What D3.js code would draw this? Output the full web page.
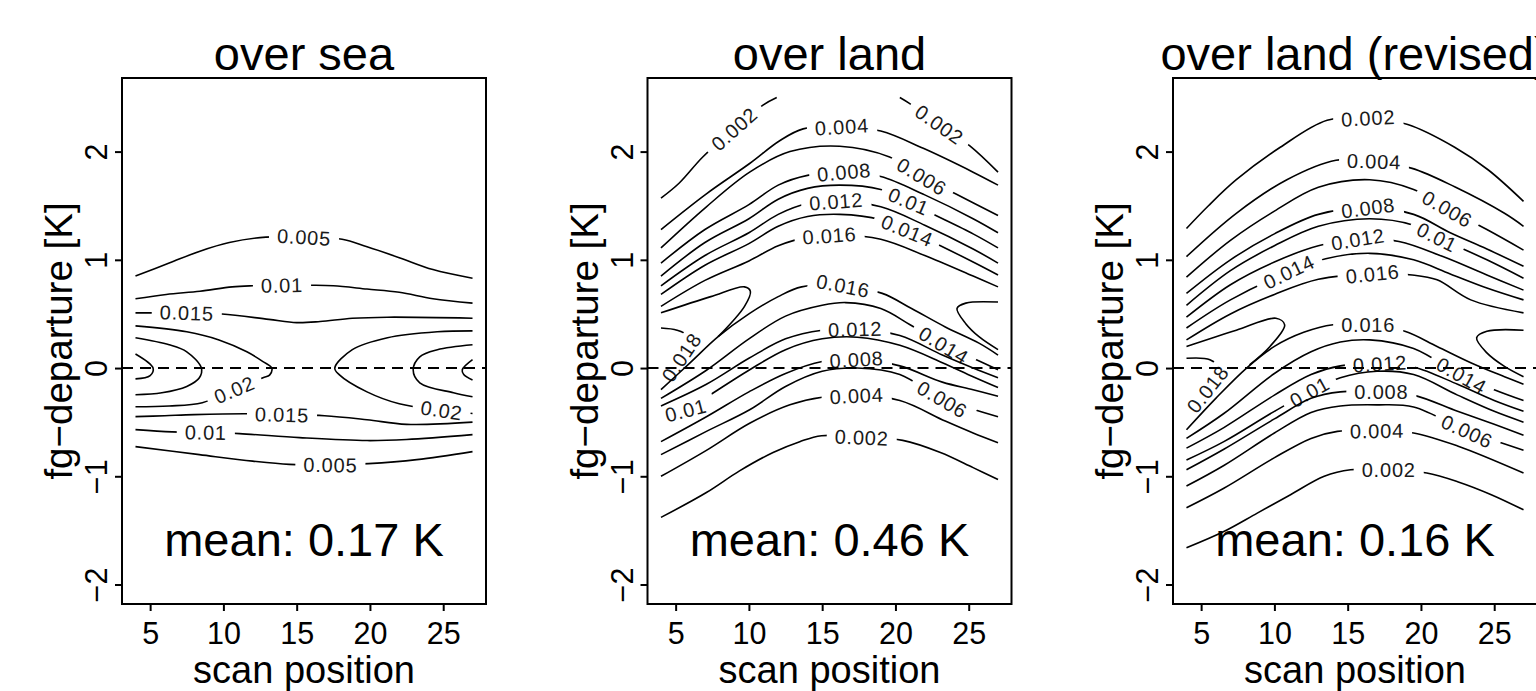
<!DOCTYPE html>
<html>
<head>
<meta charset="utf-8">
<script src="https://cdn.jsdelivr.net/npm/d3@7"></script>
<style>
    body { margin: 0; background: #fff; }
    text { font-family: "Liberation Sans", Arial, Helvetica, sans-serif; fill: #000; }
</style>
</head>
<body>
<svg id="chart" width="1536" height="691"></svg>
<script>
// axis ticks and panel texts
const xTicks = [5, 10, 15, 20, 25];
const yTicks = [-2, -1, 0, 1, 2];
const panelTitles = ["over sea", "over land", "over land (revised)"];
const panelMeans = ["mean: 0.17 K", "mean: 0.46 K", "mean: 0.16 K"];

// contour lines: label text, label spot, points [scan position, fg-departure]
const seaLines = [
    {lab: "0.005", at: [15.5, 1.20], pts: [[4,0.85],[6.3,0.97],[8.4,1.08],[10.4,1.16],[12.9,1.21],[15.5,1.21],[18.1,1.19],[19.8,1.12],[22.0,1.02],[24.3,0.91],[27,0.83]]},
    {lab: "0.01", at: [14.0, 0.755], pts: [[4,0.64],[6.1,0.68],[8.4,0.71],[10.6,0.75],[12,0.76],[14,0.765],[16,0.765],[17.5,0.76],[19.8,0.73],[22,0.70],[24.3,0.64],[27,0.60]]},
    {lab: "0.015", at: [7.5, 0.505], pts: [[4,0.51],[6,0.51],[7.5,0.51],[9.9,0.50],[13.1,0.45],[15,0.42],[16.6,0.43],[18.8,0.46],[21.2,0.47],[27,0.46]]},
    {lab: "0.02", at: [10.75, -0.20], pts: [[4,0.39],[7.5,0.335],[9.7,0.26],[11.6,0.15],[12.7,0.06],[13.3,0.0],[13.15,-0.065],[12.7,-0.09],[10.75,-0.20],[8.56,-0.32],[6.3,-0.35],[4,-0.357]]},
    {lab: null, pts: [[4,0.28],[6.3,0.215],[7.5,0.15],[8.5,0.0],[8.36,-0.09],[7.5,-0.17],[5.8,-0.228],[4,-0.246]]},
    {lab: null, pts: [[4,0.13],[5.2,0.0],[5.0,-0.07],[4,-0.10]]},
    {lab: "0.02", at: [24.9, -0.38], pts: [[27,0.344],[24.6,0.335],[21.2,0.28],[18.8,0.17],[17.6,0.0],[17.9,-0.06],[19.8,-0.22],[22.0,-0.33],[24.9,-0.39],[27,-0.42]]},
    {lab: null, pts: [[27,0.215],[24.6,0.169],[23.4,0.104],[22.95,-0.016],[23.4,-0.136],[25.7,-0.228],[27,-0.265]]},
    {lab: null, pts: [[27,0.077],[26.3,-0.016],[26.4,-0.06],[27,-0.11]]},
    {lab: "0.015", at: [14.0, -0.43], pts: [[4,-0.449],[6,-0.44],[8,-0.43],[11.6,-0.422],[14,-0.43],[16.9,-0.44],[19.8,-0.477],[22.5,-0.52],[27,-0.50]]},
    {lab: "0.01", at: [8.8, -0.595], pts: [[4,-0.569],[6.5,-0.59],[8.8,-0.595],[11.1,-0.606],[15.2,-0.643],[19.8,-0.67],[22.5,-0.66],[27,-0.615]]},
    {lab: "0.005", at: [17.3, -0.895], pts: [[4,-0.726],[8.36,-0.80],[12,-0.86],[14.5,-0.89],[17.3,-0.895],[19.9,-0.883],[23.2,-0.846],[27,-0.772]]}
];

const landLines = [
    {lab: "0.002", at: [9.0, 2.21], pts: [[4,1.57],[5.25,1.71],[6.85,1.95],[9.0,2.21],[10.96,2.43],[11.9,2.5]]},
    {lab: "0.002", at: [23.0, 2.25], pts: [[20.3,2.5],[20.9,2.45],[23.0,2.25],[25.1,2.05],[27,1.81]]},
    {lab: "0.004", at: [16.35, 2.23], pts: [[4,1.28],[7.1,1.61],[10.05,1.89],[12.1,2.1],[13.7,2.21],[16.35,2.23],[19.0,2.19],[21.9,2.03],[25.3,1.81],[27,1.69]]},
    {lab: "0.006", at: [21.8, 1.77], pts: [[4,1.11],[7.1,1.49],[10.05,1.81],[12.8,2.0],[16.2,2.05],[19.6,1.95],[21.8,1.77],[24.1,1.61],[27,1.41]]},
    {lab: "0.008", at: [16.5, 1.81], pts: [[4,0.97],[7,1.28],[10,1.51],[12,1.69],[14,1.78],[16.5,1.81],[19,1.77],[22,1.6],[25.3,1.38],[27,1.25]]},
    {lab: "0.01", at: [20.9, 1.54], pts: [[4,0.85],[7,1.16],[10,1.38],[12,1.56],[14,1.66],[16.2,1.69],[19,1.65],[20.9,1.54],[22,1.46],[25.3,1.24],[27,1.11]]},
    {lab: "0.012", at: [15.95, 1.54], pts: [[4,0.76],[7,1.04],[10,1.25],[12,1.42],[14,1.52],[16,1.54],[19,1.49],[22,1.32],[25.3,1.10],[27,0.97]]},
    {lab: "0.014", at: [20.8, 1.27], pts: [[4,0.68],[7,0.95],[10,1.15],[12,1.31],[14,1.40],[16.2,1.42],[19,1.37],[20.8,1.27],[22,1.20],[25.3,0.98],[27,0.86]]},
    {lab: "0.016", at: [15.5, 1.22], pts: [[4,0.57],[7,0.81],[10,0.99],[12,1.13],[14,1.21],[16.2,1.23],[19,1.19],[22,1.04],[25.3,0.85],[27,0.75]]},
    {lab: null, pts: [[4,0.51],[7.4,0.66],[9.7,0.75],[10.1,0.71],[9.7,0.57],[7.9,0.29]]},
    {lab: "0.018", at: [5.4, 0.1], pts: [[4,0.37],[5.1,0.35],[5.8,0.30],[5.9,0.2],[5.4,0.1],[4.7,0.02],[4,-0.06]]},
    {lab: null, pts: [[27,0.61],[24.8,0.60],[24.2,0.55],[24.8,0.41],[25.7,0.29],[27,0.17]]},
    {lab: "0.016", at: [16.4, 0.74], pts: [[4,-0.2],[6,0.05],[7.9,0.29],[10,0.5],[12,0.66],[13.6,0.75],[16.4,0.76],[19.1,0.69],[21.1,0.55],[23.4,0.38],[25.7,0.23],[27,0.12]]},
    {lab: "0.014", at: [23.3, 0.21], pts: [[4,-0.28],[7.1,-0.02],[10,0.27],[12.5,0.48],[15,0.58],[16.6,0.605],[19,0.55],[21,0.40],[23.3,0.21],[25.3,0.09],[27,-0.015]]},
    {lab: "0.012", at: [17.25, 0.36], pts: [[4,-0.35],[7.1,-0.15],[10,0.09],[12.5,0.27],[15,0.35],[17.4,0.36],[20.3,0.3],[23.2,0.12],[25.3,0.0],[27,-0.09]]},
    {lab: "0.01", at: [5.7, -0.39], pts: [[4,-0.45],[5.7,-0.39],[7.1,-0.27],[10,-0.02],[12.5,0.17],[15,0.27],[17.4,0.285],[20.3,0.21],[23.2,0.05],[25.3,-0.08],[27,-0.18]]},
    {lab: "0.008", at: [17.35, 0.08], pts: [[4,-0.68],[7.1,-0.45],[10,-0.22],[12.5,-0.05],[15,0.06],[17.4,0.08],[20.3,0.02],[23.2,-0.13],[25.3,-0.2],[27,-0.26]]},
    {lab: "0.006", at: [23.2, -0.29], pts: [[4,-0.80],[7.1,-0.585],[10.05,-0.385],[12.5,-0.17],[15,-0.03],[17.4,0.0],[20.3,-0.06],[23.2,-0.29],[25.3,-0.38],[27,-0.45]]},
    {lab: "0.004", at: [17.35, -0.255], pts: [[4,-1.0],[7.1,-0.76],[10.05,-0.51],[12.8,-0.34],[15,-0.27],[17.4,-0.255],[20.3,-0.30],[23.4,-0.49],[25.3,-0.60],[27,-0.69]]},
    {lab: "0.002", at: [17.7, -0.64], pts: [[4,-1.38],[7.1,-1.15],[9.36,-0.95],[11.65,-0.78],[13.47,-0.68],[14.96,-0.625],[17.7,-0.64],[20.5,-0.668],[23.07,-0.78],[25.3,-0.92],[27,-1.03]]}
];

const revLines = [
    {lab: "0.002", at: [16.4, 2.31], pts: [[4,1.29],[5.5,1.5],[7.4,1.74],[10.4,2.04],[13.6,2.29],[16.4,2.31],[19.1,2.25],[22.3,2.04],[24.6,1.83],[27,1.54]]},
    {lab: "0.004", at: [16.8, 1.91], pts: [[4,1.03],[7.4,1.43],[10.85,1.74],[14.2,1.92],[16.8,1.91],[19.4,1.845],[22.3,1.675],[25.7,1.43],[27,1.31]]},
    {lab: "0.006", at: [21.8, 1.47], pts: [[4,0.84],[7,1.18],[10,1.45],[13,1.67],[16.5,1.74],[19.5,1.65],[21.8,1.47],[24.5,1.28],[27,1.09]]},
    {lab: "0.008", at: [16.4, 1.48], pts: [[4,0.69],[7,1.0],[10,1.24],[13,1.42],[16.4,1.48],[19.5,1.42],[22,1.25],[24.5,1.10],[27,0.94]]},
    {lab: "0.01", at: [21.1, 1.21], pts: [[4,0.58],[7,0.9],[10,1.13],[13,1.31],[16.5,1.38],[19.5,1.32],[21.1,1.21],[24.5,1.00],[27,0.83]]},
    {lab: "0.012", at: [15.7, 1.19], pts: [[4,0.47],[7,0.77],[10,0.98],[13,1.13],[15.7,1.19],[18.5,1.17],[21.5,1.03],[24.5,0.86],[27,0.72]]},
    {lab: "0.014", at: [11.0, 0.89], pts: [[4,0.37],[7,0.63],[11,0.89],[13.5,1.01],[16.5,1.06],[19.5,1.0],[22,0.87],[24.5,0.74],[27,0.63]]},
    {lab: "0.016", at: [16.7, 0.87], pts: [[4,0.26],[7,0.5],[10,0.68],[13,0.82],[16.7,0.87],[19.4,0.86],[21.1,0.815],[23.4,0.63],[27,0.51]]},
    {lab: null, pts: [[4,0.2],[7.4,0.35],[10.1,0.46],[10.7,0.40],[9.7,0.2],[8.3,0.03]]},
    {lab: "0.018", at: [5.5, -0.2], pts: [[4,0.09],[5.6,0.077],[6.2,0.0],[6.0,-0.1],[5.3,-0.22],[4,-0.35]]},
    {lab: null, pts: [[27,0.35],[24.5,0.34],[23.8,0.28],[24.5,0.14],[25.7,0.015],[27,-0.08]]},
    {lab: "0.016", at: [16.4, 0.40], pts: [[4,-0.57],[6,-0.28],[8.1,0.0],[10,0.2],[12,0.33],[14,0.40],[16.4,0.40],[18.9,0.34],[21.1,0.2],[23.4,0.05],[25.7,-0.08],[27,-0.15]]},
    {lab: "0.014", at: [22.77, -0.07], pts: [[4,-0.65],[6.55,-0.42],[10,-0.05],[12.5,0.15],[14.5,0.24],[16.5,0.26],[19.5,0.18],[22.77,-0.07],[25,-0.2],[27,-0.30]]},
    {lab: "0.012", at: [17.2, 0.04], pts: [[4,-0.74],[6.55,-0.55],[10,-0.25],[12.5,-0.06],[14.5,0.02],[17.2,0.04],[19.5,0.01],[22.5,-0.15],[25,-0.30],[27,-0.40]]},
    {lab: "0.01", at: [12.4, -0.22], pts: [[4,-0.85],[6.55,-0.68],[10,-0.40],[12.4,-0.22],[14.5,-0.09],[17,-0.03],[19.5,-0.06],[22.5,-0.25],[25,-0.40],[27,-0.50]]},
    {lab: "0.008", at: [17.3, -0.22], pts: [[4,-0.94],[6.55,-0.75],[10,-0.47],[12.5,-0.28],[14.5,-0.22],[17.3,-0.22],[19.5,-0.25],[22.5,-0.40],[25,-0.52],[27,-0.62]]},
    {lab: "0.006", at: [23.15, -0.585], pts: [[4,-1.09],[6.55,-0.90],[10,-0.60],[12.5,-0.41],[14.5,-0.35],[17,-0.34],[19.5,-0.36],[23.15,-0.585],[25,-0.67],[27,-0.76]]},
    {lab: "0.004", at: [17.0, -0.58], pts: [[4,-1.29],[6.55,-1.11],[9.98,-0.83],[12.5,-0.65],[14.3,-0.585],[17,-0.58],[19.5,-0.6],[22.5,-0.72],[27,-0.97]]},
    {lab: "0.002", at: [17.8, -0.94], pts: [[4,-1.66],[6.55,-1.51],[8.83,-1.34],[11.1,-1.17],[13.4,-1.0],[15.2,-0.94],[17.8,-0.94],[20.4,-0.97],[22.5,-1.05],[24.8,-1.17],[27,-1.31]]}
];

const panelLines = [seaLines, landLines, revLines];

// layout
const panelLeft = [122, 647.5, 1173];
const plotTop = 78;
const plotW = 364, plotH = 526;

const svg = d3.select("#chart");
const defs = svg.append("defs");

const x = d3.scaleLinear().domain([3.08, 27.92]).range([0, plotW]);
const y = d3.scaleLinear().domain([-2.18, 2.68]).range([plotH, 0]);

const lineGen = d3.line()
    .x(d => x(d[0]))
    .y(d => y(d[1]))
    .curve(d3.curveCatmullRom.alpha(0.5));

// nearest point on a polyline (pixel space), with the segment direction
function nearestOnLine(pts, px, py) {
    let best = null;
    for (let i = 0; i < pts.length - 1; i++) {
        const ax = x(pts[i][0]), ay = y(pts[i][1]);
        const bx = x(pts[i + 1][0]), by = y(pts[i + 1][1]);
        const dx = bx - ax, dy = by - ay;
        let t = ((px - ax) * dx + (py - ay) * dy) / (dx * dx + dy * dy);
        t = Math.max(0, Math.min(1, t));
        const cx = ax + t * dx, cy = ay + t * dy;
        const dist = Math.hypot(px - cx, py - cy);
        if (!best || dist < best.dist) best = {cx, cy, dx, dy, dist};
    }
    return best;
}

let maskId = 0;

panelLines.forEach((lines, i) => {
    const g = svg.append("g")
        .attr("transform", `translate(${panelLeft[i]},${plotTop})`);

    lines.forEach(d => {
        const path = g.append("path")
            .attr("class", "contour")
            .attr("d", lineGen(d.pts))
            .attr("fill", "none")
            .attr("stroke", "#000")
            .attr("stroke-width", 1.6);

        if (!d.lab) return;

        // label placed on the line, line cut open under it
        const near = nearestOnLine(d.pts, x(d.at[0]), y(d.at[1]));
        let ang = Math.atan2(near.dy, near.dx) * 180 / Math.PI;
        if (ang > 90) ang -= 180;
        if (ang < -90) ang += 180;

        const t = g.append("text")
            .attr("transform", `translate(${near.cx},${near.cy}) rotate(${ang})`)
            .attr("text-anchor", "middle")
            .attr("dy", "0.36em")
            .style("font-size", "20px")
            .style("letter-spacing", "0.8px")
            .style("fill", "#1a1a1a")
            .text(d.lab);
        const w = t.node().getComputedTextLength();

        const id = "gap" + (maskId++);
        const m = defs.append("mask")
            .attr("id", id)
            .attr("maskUnits", "userSpaceOnUse")
            .attr("x", -50).attr("y", -50)
            .attr("width", plotW + 100).attr("height", plotH + 100);
        m.append("rect")
            .attr("x", -50).attr("y", -50)
            .attr("width", plotW + 100).attr("height", plotH + 100)
            .attr("fill", "#fff");
        m.append("rect")
            .attr("transform", `translate(${near.cx},${near.cy}) rotate(${ang})`)
            .attr("x", -w / 2 - 8).attr("y", -12)
            .attr("width", w + 16).attr("height", 24)
            .attr("fill", "#000");
        path.attr("mask", `url(#${id})`);
    });

    // zero line
    g.append("line")
        .attr("x1", 0).attr("x2", plotW)
        .attr("y1", y(0)).attr("y2", y(0))
        .attr("stroke", "#000")
        .attr("stroke-width", 2)
        .attr("stroke-dasharray", "11,7");

    // axes
    const xAxis = g.append("g")
        .attr("transform", `translate(0,${plotH})`)
        .call(d3.axisBottom(x).tickValues(xTicks).tickSize(7).tickSizeOuter(0));
    xAxis.select(".domain").remove();
    xAxis.selectAll("line").attr("stroke", "#000").attr("stroke-width", 2);
    xAxis.selectAll("text")
        .attr("y", 40).attr("dy", null)
        .style("font-size", "30.5px");

    const yAxis = g.append("g")
        .call(d3.axisLeft(y).tickValues(yTicks).tickSize(7).tickSizeOuter(0)
            .tickFormat(d => d < 0 ? "\u2212" + Math.abs(d) : d));
    yAxis.select(".domain").remove();
    yAxis.selectAll("line").attr("stroke", "#000").attr("stroke-width", 2);
    yAxis.selectAll("text")
        .attr("x", 0).attr("y", -15).attr("dy", null)
        .attr("text-anchor", "middle")
        .attr("transform", "rotate(-90)")
        .style("font-size", "30.5px");

    // box
    g.append("rect")
        .attr("width", plotW).attr("height", plotH)
        .attr("fill", "none")
        .attr("stroke", "#000")
        .attr("stroke-width", 2);

    // texts
    g.append("text")
        .attr("x", plotW / 2).attr("y", 70 - plotTop)
        .attr("text-anchor", "middle")
        .style("font-size", "47px")
        .text(panelTitles[i]);

    g.append("text")
        .attr("x", plotW / 2).attr("y", 556 - plotTop)
        .attr("text-anchor", "middle")
        .style("font-size", "47px")
        .text(panelMeans[i]);

    g.append("text")
        .attr("x", plotW / 2).attr("y", 683 - plotTop)
        .attr("text-anchor", "middle")
        .style("font-size", "38px")
        .text("scan position");

    g.append("text")
        .attr("transform", `translate(-50,${plotH / 2}) rotate(-90)`)
        .attr("text-anchor", "middle")
        .style("font-size", "38.5px")
        .text("fg\u2212departure [K]");
});
</script>
</body>
</html>
